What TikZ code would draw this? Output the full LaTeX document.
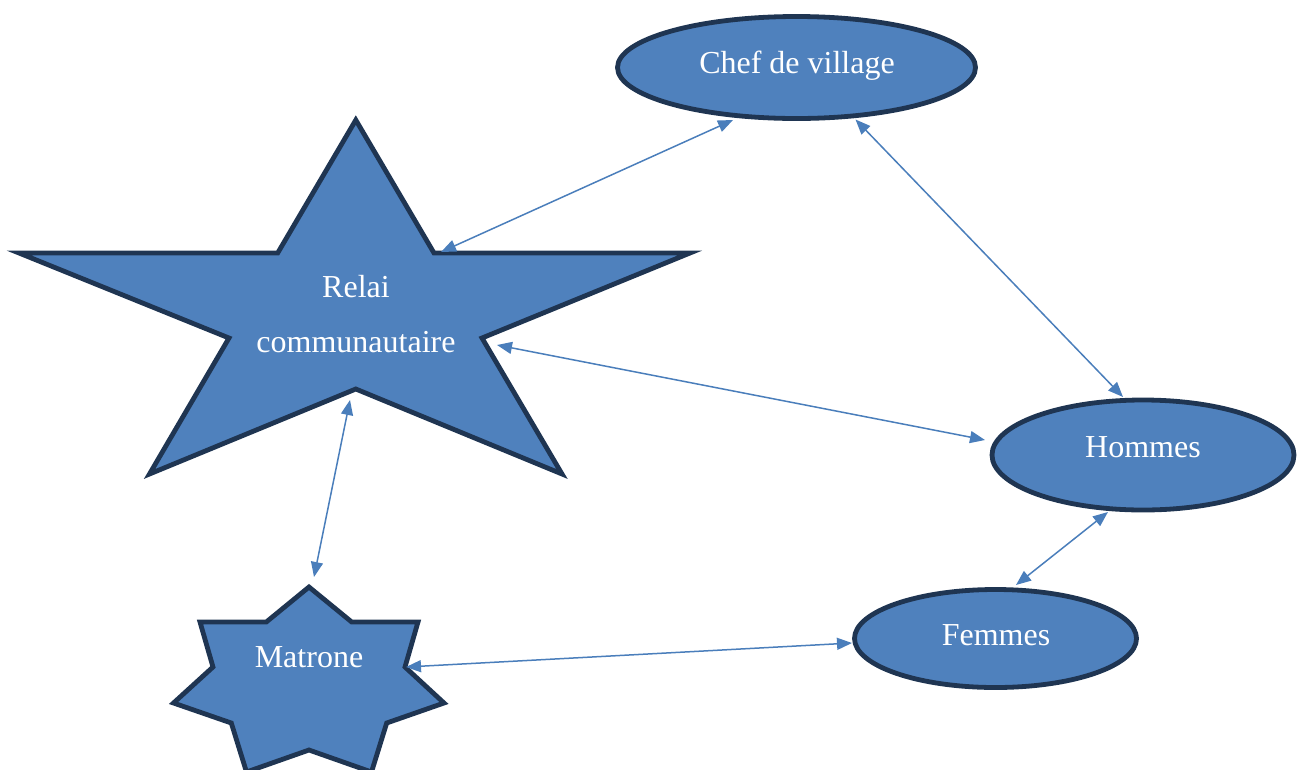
\documentclass[tikz,border=0pt]{standalone}
\usepackage{fontspec}
\setmainfont{Liberation Serif}
\usetikzlibrary{shapes.geometric,arrows.meta}
\definecolor{shapefill}{HTML}{4F81BD}
\definecolor{shapeline}{HTML}{1F3552}
\definecolor{arrowcol}{HTML}{4A7EBB}
\tikzset{
  shapestyle/.style={fill=shapefill,draw=shapeline,line width=4.8pt,line join=miter},
  ellnode/.style={ellipse,shapestyle,inner sep=0pt},
  txtnode/.style={text=white,font=\fontsize{32}{55}\selectfont,align=center,inner sep=0pt},
  link/.style={draw=arrowcol,line width=1.5pt,{Triangle[length=15pt,width=12pt]}-{Triangle[length=15pt,width=12pt]}}
}
\begin{document}
\begin{tikzpicture}[x=1pt,y=-1pt]
\useasboundingbox (0,0) rectangle (1301,769);
% big five-point star
\draw[shapestyle] (355.8,120) -- (434,253) -- (690,253) -- (482,338) -- (562,474)
  -- (355.8,389) -- (149.5,474) -- (229,338) -- (19,253) -- (277.7,253) -- cycle;
\node[txtnode] (relai) at (356,314) {Relai\\communautaire};
% seven-point star
\draw[shapestyle] (309,587) -- (351.7,622) -- (418,622) -- (405,667) -- (444,703)
  -- (386.7,723) -- (371.5,772) -- (309,750) -- (246.5,772) -- (231.3,723)
  -- (173.5,703) -- (213,667) -- (200,622) -- (266.3,622) -- cycle;
\node[txtnode] (matrone) at (309,657) {Matrone};
% ellipses
\node[ellnode,minimum width=358pt,minimum height=102pt] (chef) at (796.5,67.5) {};
\node[txtnode] (cheftext) at (797,65.5) {Chef de village};
\node[ellnode,minimum width=302pt,minimum height=110pt] (hommes) at (1143,455) {};
\node[txtnode] (hommestext) at (1143,447) {Hommes};
\node[ellnode,minimum width=282pt,minimum height=98pt] (femmes) at (995.5,638.5) {};
\node[txtnode] (femmestext) at (996,635) {Femmes};
% connector end points
\coordinate (chefSW) at (733,120);
\coordinate (chefSE) at (855.5,119.5);
\coordinate (relaiNE) at (441,252);
\coordinate (relaiE) at (497,345);
\coordinate (relaiS) at (350,400);
\coordinate (hommesN) at (1123,397);
\coordinate (hommesW) at (985,440);
\coordinate (hommesS) at (1108,512);
\coordinate (femmesN) at (1016,585);
\coordinate (femmesW) at (852,643);
\coordinate (matroneN) at (314,577);
\coordinate (matroneE) at (406,667);
% connectors
\draw[link] (chefSW) -- (relaiNE);
\draw[link] (chefSE) -- (hommesN);
\draw[link] (relaiE) -- (hommesW);
\draw[link] (relaiS) -- (matroneN);
\draw[link] (hommesS) -- (femmesN);
\draw[link] (matroneE) -- (femmesW);
\end{tikzpicture}
\end{document}
